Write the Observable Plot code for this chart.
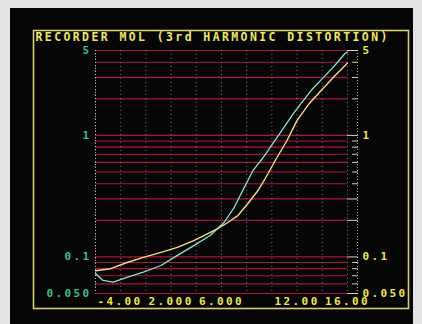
<!DOCTYPE html>
<html><head><meta charset="utf-8">
<script src="https://cdn.jsdelivr.net/npm/d3@7"></script>
<script src="https://cdn.jsdelivr.net/npm/@observablehq/plot@0.6"></script>
<style>
html,body{margin:0;padding:0;background:#e4e4e4;width:422px;height:324px;overflow:hidden;}
#wrap{position:absolute;left:10px;top:8px;width:403px;height:316px;background:#060607;}
#wrap svg text{letter-spacing:2.4px;font-weight:bold;}
</style></head><body><div id="wrap"></div>
<script>
const title = "RECORDER MOL (3rd HARMONIC DISTORTION)";
const xTicks = [-4, 2, 6, 12, 16];
const xTickLabels = ["-4.00", "2.000", "6.000", "12.00", "16.00"];
const yTicks = [5, 1, 0.1, 0.05];
const yTickLabels = ["5", "1", "0.1", "0.050"];
const xGrid = [-4, -2, 0, 2, 4, 6, 8, 10, 12, 14, 16];
const yGrid = [0.05, 0.06, 0.07, 0.08, 0.09, 0.1, 0.2, 0.3, 0.4, 0.5, 0.6, 0.7, 0.8, 0.9, 1, 2, 3, 4, 5];
const yLongTicks = [5, 1, 0.3, 0.2, 0.1, 0.05];
const yShortTicks = [4, 3, 2, 0.9, 0.8, 0.7, 0.6, 0.5, 0.4, 0.09, 0.08, 0.07, 0.06];

const yellowX = [-4, -2.8, -1.5, -0.2, 1.2, 2.5, 3.8, 4.6, 5.7, 6.5, 7.3, 8.1, 8.9, 9.7, 10.4, 11.2, 12.0, 13.0, 14.0, 15.0, 16];
const yellowY = [0.077, 0.080, 0.090, 0.099, 0.109, 0.120, 0.136, 0.150, 0.171, 0.192, 0.219, 0.275, 0.352, 0.486, 0.658, 0.908, 1.33, 1.85, 2.4, 3.1, 3.95];
const cyanX = [-4, -3.4, -2.6, -1.5, -0.2, 1.2, 2.5, 3.8, 5.1, 6.2, 7.0, 7.8, 8.5, 9.3, 10.4, 11.7, 13.1, 14.4, 15.2, 15.8, 16];
const cyanY = [0.073, 0.064, 0.062, 0.068, 0.075, 0.085, 0.103, 0.124, 0.150, 0.192, 0.255, 0.372, 0.514, 0.658, 0.96, 1.51, 2.34, 3.24, 3.98, 4.72, 4.85];

const fmtX = d => xTickLabels[xTicks.indexOf(d)];
const fmtY = d => yTickLabels[yTicks.indexOf(d)];
const tickShape = {draw(context, l) { context.moveTo(0, 0); context.lineTo(0, -l); }};

const chart = Plot.plot({
  width: 403, height: 316,
  marginLeft: 85, marginRight: 66, marginTop: 42, marginBottom: 31,
  x: {domain: [-4, 16], axis: null},
  y: {type: "log", domain: [0.05, 5], axis: null},
  style: {background: "transparent", fontFamily: "'DejaVu Sans Mono', monospace", fontSize: "11px", color: "#e6e04a"},
  marks: [
    Plot.frame({stroke: "#d6cf78", strokeWidth: 1.6, insetLeft: -62, insetRight: -61, insetTop: -20, insetBottom: -15}),
    Plot.ruleY(yGrid, {stroke: "#b8173f", strokeWidth: 1.2, strokeOpacity: 0.92}),
    Plot.ruleX(xGrid, {stroke: "#e098b0", strokeWidth: 1, strokeDasharray: "1,3", strokeOpacity: 0.65}),
    Plot.ruleX([-4], {stroke: "#d8d0c0", strokeDasharray: "1,2", strokeOpacity: 0.8}),
    Plot.ruleX([16], {dx: 10, stroke: "#d8d0c0", strokeDasharray: "1,2", strokeOpacity: 0.8}),
    Plot.vector(yLongTicks, {y: d => d, frameAnchor: "right", rotate: 90, length: 10, anchor: "start", shape: tickShape, stroke: "#d8d0c0", strokeWidth: 1}),
    Plot.vector(yShortTicks, {y: d => d, frameAnchor: "right", rotate: 90, length: 5, anchor: "start", dx: 5, shape: tickShape, stroke: "#d8d0c0", strokeWidth: 1}),
    Plot.text(yTicks, {y: d => d, text: fmtY, frameAnchor: "left", textAnchor: "end", dx: -4, fill: "#3fbf86"}),
    Plot.text(yTicks, {y: d => d, text: fmtY, frameAnchor: "right", textAnchor: "start", dx: 15, fill: "#eee64a"}),
    Plot.text(xTicks.slice(0, 1), {x: d => d, text: fmtX, frameAnchor: "bottom", textAnchor: "start", lineAnchor: "top", dx: 2, dy: 4, fill: "#eee64a"}),
    Plot.text(xTicks.slice(1), {x: d => d, text: fmtX, frameAnchor: "bottom", lineAnchor: "top", dy: 4, fill: "#eee64a"}),
    Plot.line(cyanY, {x: cyanX, y: cyanY, stroke: "#86e6c8", strokeWidth: 1.3}),
    Plot.line(yellowY, {x: yellowX, y: yellowY, stroke: "#f2dc84", strokeWidth: 1.4}),
    Plot.text([title], {frameAnchor: "top-left", dx: -60, dy: -13, textAnchor: "start", lineAnchor: "middle", fill: "#ece66a", fontSize: 11.5})
  ]
});
document.getElementById("wrap").appendChild(chart);
</script></body></html>
